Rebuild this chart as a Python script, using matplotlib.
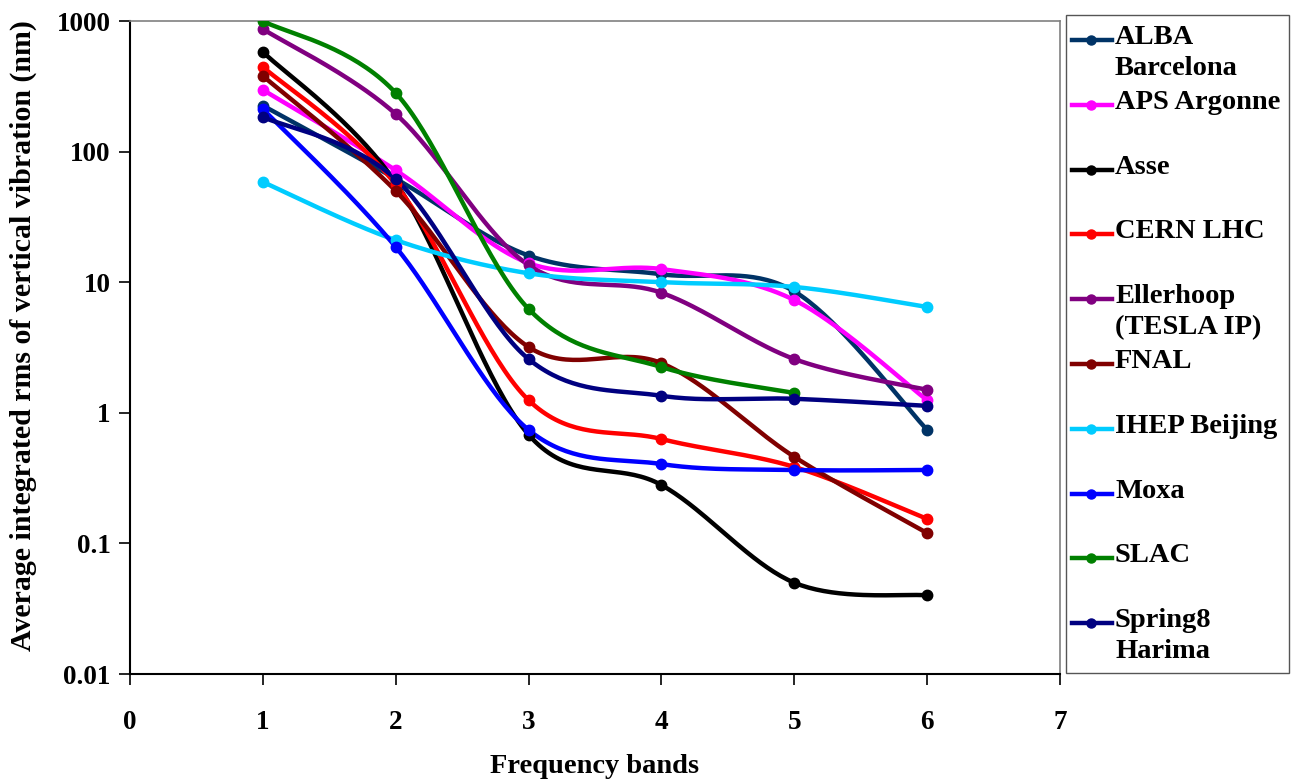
import numpy as np
import matplotlib
matplotlib.use("Agg")
import matplotlib.pyplot as plt
from matplotlib.lines import Line2D

# ---- data ----
bands = [1, 2, 3, 4, 5, 6]
site_names = ["ALBA\nBarcelona", "APS Argonne", "Asse", "CERN LHC",
              "Ellerhoop\n(TESLA IP)", "FNAL", "IHEP Beijing", "Moxa",
              "SLAC", "Spring8\nHarima"]
alba      = [225, 62, 16, 11.5, 8.5, 0.74]
aps       = [297, 72, 14, 12.6, 7.3, 1.25]
asse      = [580, 58, 0.68, 0.28, 0.05, 0.04]
cern      = [445, 56, 1.25, 0.63, 0.385, 0.154]
ellerhoop = [868, 194, 13.5, 8.3, 2.58, 1.5]
fnal      = [380, 50, 3.19, 2.4, 0.46, 0.12]
ihep      = [58.5, 21, 11.7, 10, 9.2, 6.46]
moxa      = [212, 18.6, 0.74, 0.405, 0.365, 0.365]
slac      = [1000, 281, 6.24, 2.24, 1.42]
spring8   = [184, 61.6, 2.58, 1.35, 1.28, 1.13]
series = [alba, aps, asse, cern, ellerhoop, fnal, ihep, moxa, slac, spring8]
colors = ["#003366", "#FF00FF", "#000000", "#FF0000", "#800080",
          "#800000", "#00CCFF", "#0000FF", "#008000", "#000080"]
xticks = [0, 1, 2, 3, 4, 5, 6, 7]
yticks = [0.01, 0.1, 1, 10, 100, 1000]
ytick_labels = ["0.01", "0.1", "1", "10", "100", "1000"]

plt.rcParams['font.family'] = ['Liberation Serif', 'DejaVu Serif']
plt.rcParams['font.weight'] = 'bold'
FS = 19.5


def smooth(xs, ys, n=40):
    """Excel-like smoothed line (Catmull-Rom Bezier) in (x, log10 y) space."""
    px = np.asarray(xs, float)
    py = np.log10(np.asarray(ys, float))
    P = np.column_stack([px, py])
    out = [P[0]]
    t = np.linspace(0, 1, n)[1:, None]
    for i in range(len(P) - 1):
        p0 = P[i - 1] if i > 0 else P[i]
        p1, p2 = P[i], P[i + 1]
        p3 = P[i + 2] if i + 2 < len(P) else P[i + 1]
        c1 = p1 + (p2 - p0) / 6.0
        c2 = p2 - (p3 - p1) / 6.0
        seg = ((1 - t) ** 3) * p1 + 3 * ((1 - t) ** 2) * t * c1 + 3 * (1 - t) * t ** 2 * c2 + t ** 3 * p2
        out.extend(seg)
    out = np.array(out)
    return out[:, 0], 10 ** out[:, 1]


W, H = 1299, 784
fig = plt.figure(figsize=(W / 100, H / 100), dpi=100)
L, R, T, B = 130, 1060, 21, 674
ax = fig.add_axes([L / W, 1 - B / H, (R - L) / W, (B - T) / H])

for vals, c in zip(series, colors):
    xs = bands[:len(vals)]
    sx, sy = smooth(xs, vals)
    ax.plot(sx, sy, color=c, lw=3.2, solid_capstyle='round', zorder=2)
    ax.plot(xs, vals, 'o', color=c, ms=7.5, zorder=3)

ax.set_yscale('log')
ax.set_xlim(0, 7)
ax.set_ylim(0.01, 1000)
ax.set_xticks(xticks)
ax.set_xticklabels([str(v) for v in xticks], fontsize=FS, fontweight='bold')
ax.set_yticks(yticks)
ax.set_yticklabels(ytick_labels, fontsize=FS, fontweight='bold')
ax.yaxis.set_minor_locator(matplotlib.ticker.NullLocator())
ax.tick_params(axis='x', direction='out', length=8, width=1.2, pad=18)
ax.tick_params(axis='y', direction='out', length=8, width=1.2, pad=6)
for s in ['left', 'bottom']:
    ax.spines[s].set_color('black')
    ax.spines[s].set_linewidth(1.5)
for s in ['top', 'right']:
    ax.spines[s].set_color('#808080')
    ax.spines[s].set_linewidth(1.2)

ax.set_xlabel("Frequency bands", fontsize=20.5, fontweight='bold')
ax.xaxis.set_label_coords(0.5, -0.122)
fig.text(23 / W, 1 - 336 / H, "Average integrated rms of vertical vibration (nm)",
         fontsize=21.5, fontweight='bold', rotation=90, ha='center', va='center')

# ---- legend drawn manually ----
lx0, ly0, lx1, ly1 = 1066, 15, 1289, 673
fig.patches.append(plt.Rectangle((lx0 / W, 1 - ly1 / H), (lx1 - lx0) / W, (ly1 - ly0) / H,
                                 transform=fig.transFigure, fill=False,
                                 edgecolor='#555555', lw=1.0))
for i, (name, c) in enumerate(zip(site_names, colors)):
    yp = 40 + 64.8 * i
    fig.add_artist(Line2D([1072 / W, 1112 / W], [1 - yp / H, 1 - yp / H],
                          transform=fig.transFigure, color=c, lw=3.2))
    fig.add_artist(Line2D([1091 / W], [1 - yp / H], transform=fig.transFigure,
                          color=c, marker='o', ms=6.5))
    fig.text(1115 / W, 1 - (yp - 15) / H, name, fontsize=20.5, fontweight='bold',
             va='top', ha='left', linespacing=1.3)

fig.savefig("out.png", dpi=100)
